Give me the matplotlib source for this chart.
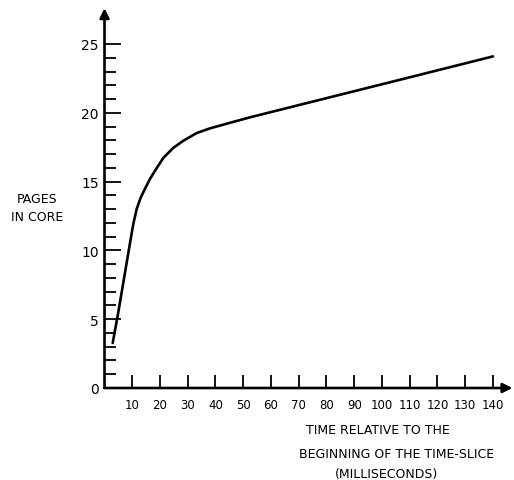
import matplotlib
matplotlib.use("Agg")
import matplotlib.pyplot as plt
from matplotlib.ticker import FixedLocator

# Data
time_ms = [2.95, 4.97, 9.44, 10.38, 11.60, 13.05, 14.59, 16.40, 18.81, 21.19, 24.79,
           28.40, 33.23, 38.02, 44.97, 52.43, 70, 90, 110, 140]
pages = [3.27, 5.50, 10.83, 11.92, 13.01, 13.84, 14.48, 15.20, 15.98, 16.72, 17.45,
         17.97, 18.53, 18.87, 19.26, 19.67, 20.56, 21.57, 22.58, 24.1]

x_ticks = [10, 20, 30, 40, 50, 60, 70, 80, 90, 100, 110, 120, 130, 140]
y_ticks = [0, 5, 10, 15, 20, 25]
y_minor = list(range(1, 26))
y_label = "PAGES\nIN CORE"
x_label = ["TIME RELATIVE TO THE", "BEGINNING OF THE TIME-SLICE", "(MILLISECONDS)"]

W, H = 514, 481
fig = plt.figure(figsize=(W / 100, H / 100), dpi=100)
x0_px, y0_px = 104.5, 389.0
xs, ys = 2.775, 13.76
xmax, ymax = 147.0, 27.6
ax = fig.add_axes([x0_px / W, (H - y0_px) / H, xmax * xs / W, ymax * ys / H])
ax.set_xlim(0, xmax)
ax.set_ylim(0, ymax)
for s in ax.spines.values():
    s.set_visible(False)

ax.plot(time_ms, pages, color="black", lw=1.9, solid_capstyle="round", solid_joinstyle="round")

# axes with arrows
arrow = dict(arrowstyle="-|>", lw=1.9, color="black", mutation_scale=14, shrinkA=0, shrinkB=0)
ax.annotate("", xy=(xmax, 0), xytext=(0, 0), arrowprops=arrow, annotation_clip=False)
ax.annotate("", xy=(0, ymax), xytext=(0, 0), arrowprops=arrow, annotation_clip=False)

ax.set_xticks(x_ticks)
ax.set_xticklabels([str(t) for t in x_ticks])
ax.set_yticks(y_ticks)
ax.set_yticklabels([str(t) for t in y_ticks])
ax.yaxis.set_minor_locator(FixedLocator(y_minor))
ax.tick_params(axis="x", direction="in", length=9.5, width=1.3, labelsize=8.5, pad=7)
ax.tick_params(axis="y", which="major", direction="in", length=11.5, width=1.3, labelsize=10, pad=4)
ax.tick_params(axis="y", which="minor", direction="in", length=8, width=1.3)

fig.text(37 / W, 1 - 209 / H, y_label, ha="center", va="center", fontsize=9,
         linespacing=1.5)
centers = [(378, 430), (397, 455), (387, 475)]
for t, (cx, cy) in zip(x_label, centers):
    fig.text(cx / W, 1 - cy / H, t, ha="center", va="center", fontsize=9)

fig.savefig("out.png", dpi=100)
